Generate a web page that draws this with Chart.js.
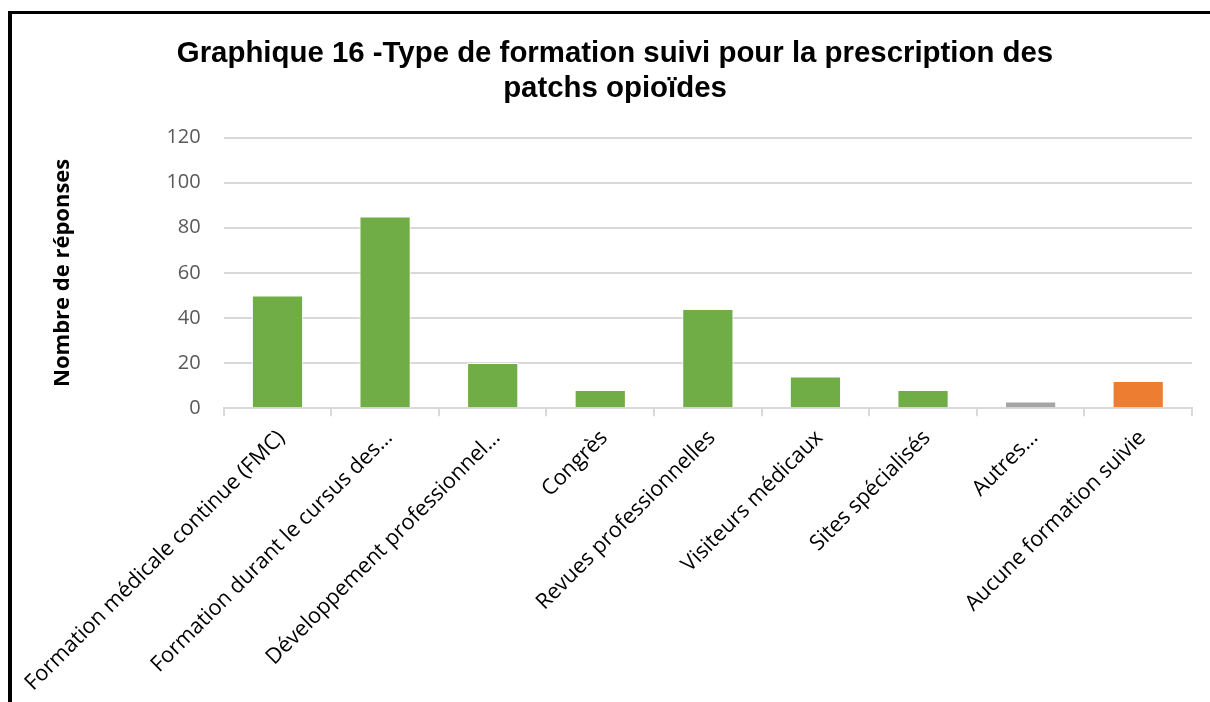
<!DOCTYPE html>
<html lang="fr">
<head>
<meta charset="utf-8">
<title>Graphique 16</title>
<script src="https://cdn.jsdelivr.net/npm/chart.js@4.4.1/dist/chart.umd.min.js"></script>
<style>
  html, body { margin: 0; padding: 0; background: #ffffff; overflow: hidden; }
  #frame {
    position: absolute; left: 8px; top: 11px; width: 1300px; height: 800px;
    border-left: 4px solid #000; border-top: 3px solid #000; box-sizing: border-box;
  }
  #wrap { position: absolute; left: 0; top: 0; width: 1210px; height: 702px; }
</style>
</head>
<body>
<div id="frame"></div>
<div id="wrap"><canvas id="chart" width="1210" height="702"></canvas></div>
<script>
// Types de formation suivis pour la prescription des patchs opioïdes
const categories = [
  'Formation médicale continue (FMC)',
  'Formation durant le cursus des…',
  'Développement professionnel…',
  'Congrès',
  'Revues professionnelles',
  'Visiteurs médicaux',
  'Sites spécialisés',
  'Autres…',
  'Aucune formation suivie'
];
const responses = [50, 85, 20, 8, 44, 14, 8, 3, 12];
const yTicks = [0, 20, 40, 60, 80, 100, 120];

// Couleurs par groupe : formations (vert), autres (gris), aucune (orange)
const GREEN = '#70AD47', GREY = '#A5A5A5', ORANGE = '#ED7D31';
const barColors = categories.map((c, i) =>
  i === categories.length - 1 ? ORANGE : (i === categories.length - 2 ? GREY : GREEN));

const tickFont = { family: "'Open Sans', sans-serif", size: 20 };

new Chart(document.getElementById('chart'), {
  type: 'bar',
  data: {
    labels: categories,
    datasets: [{
      label: 'Nombre de réponses',
      data: responses,
      backgroundColor: barColors,
      borderColor: '#ffffff',
      borderWidth: 1,
      barPercentage: 0.476,
      categoryPercentage: 1.0
    }]
  },
  options: {
    responsive: false,
    animation: false,
    layout: { padding: { left: 38, right: 18, top: 0, bottom: -3 } },
    plugins: {
      legend: { display: false },
      tooltip: { enabled: false },
      title: {
        display: true,
        text: ['Graphique 16 -Type de formation suivi pour la prescription des', 'patchs opioïdes'],
        color: '#000000',
        font: { family: "'Liberation Sans', Arial, sans-serif", size: 29.4, weight: 'bold', lineHeight: 1.2 },
        padding: { top: 36, bottom: 31 }
      }
    },
    scales: {
      x: {
        // long rotated labels may overhang the left margin, as in the printed figure
        afterFit: (scale) => { scale.paddingLeft = 0; },
        grid: {
          offset: true,
          drawOnChartArea: false,
          drawTicks: true,
          tickLength: 8,
          color: '#d9d9d9',
          lineWidth: 2
        },
        border: { display: true, color: '#d9d9d9', width: 2 },
        ticks: {
          autoSkip: false,
          maxRotation: 45,
          minRotation: 45,
          padding: 9,
          labelOffset: 4,
          color: '#000000',
          font: { family: "'Open Sans', sans-serif", size: 21.6 }
        }
      },
      y: {
        min: 0,
        max: 120,
        afterBuildTicks: (scale) => { scale.ticks = yTicks.map(v => ({ value: v })); },
        grid: { color: '#d9d9d9', lineWidth: 2, drawTicks: false },
        border: { display: false },
        ticks: { padding: 23, color: '#595959', font: tickFont },
        title: {
          display: true,
          text: 'Nombre de réponses',
          color: '#000000',
          font: { family: "'Open Sans', sans-serif", size: 22, weight: 'bold', lineHeight: 1.2 },
          padding: { top: 12, bottom: 67 }
        }
      }
    }
  }
});
</script>
</body>
</html>
